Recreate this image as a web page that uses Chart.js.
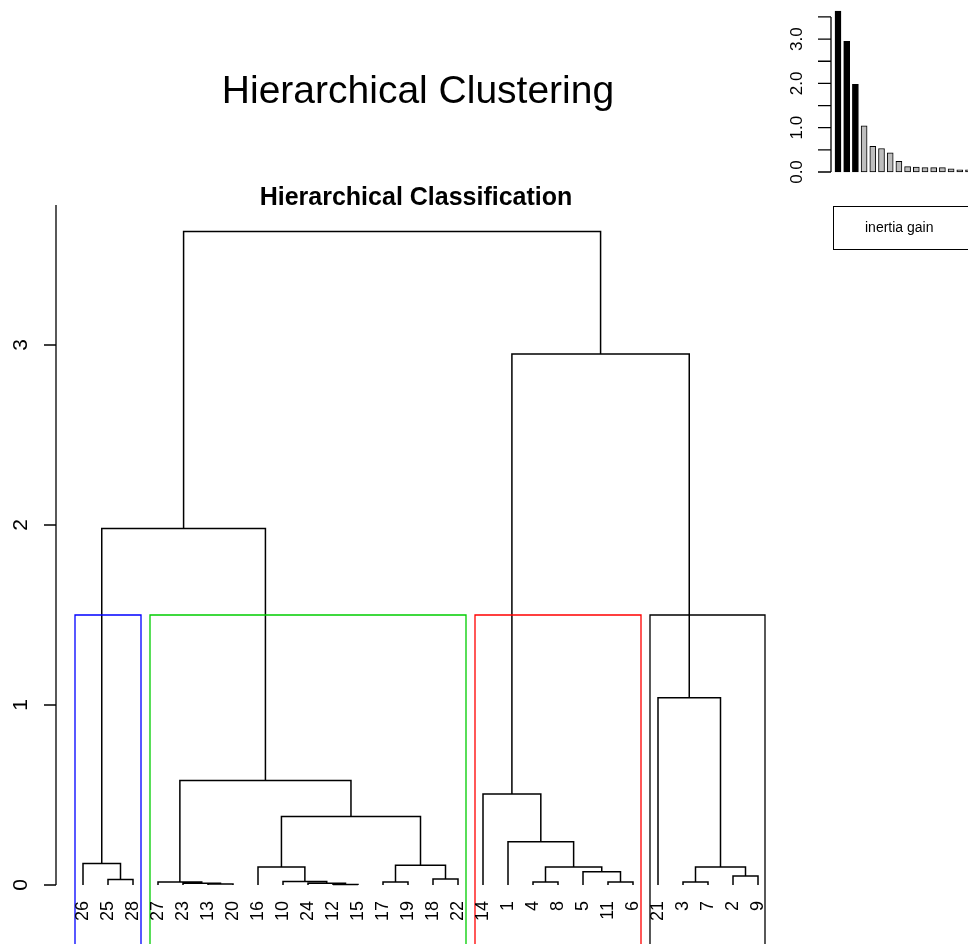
<!DOCTYPE html>
<html>
<head>
<meta charset="utf-8">
<script src="https://cdn.jsdelivr.net/npm/chart.js@4"></script>
<style>
  html, body { margin: 0; padding: 0; background: #fff; overflow: hidden; }
  #wrap { position: relative; width: 968px; height: 944px; overflow: hidden; }
  #main { position: absolute; left: 0; top: 0; }
  #inset { position: absolute; left: 760px; top: 0; }
</style>
</head>
<body>
<div id="wrap">
  <canvas id="main" width="968" height="944"></canvas>
  <canvas id="inset" width="400" height="260"></canvas>
</div>
<script>
// leaf order along the x axis
const leafOrder = [26, 25, 28, 27, 23, 13, 20, 16, 10, 24, 12, 15, 17, 19, 18, 22,
                   14, 1, 4, 8, 5, 11, 6, 21, 3, 7, 2, 9];

// merges in R style: negative = leaf label, positive = earlier merge (1-based), then height
const merges = [
  [-13, -20, 0.005],   // 1
  [-23, 1, 0.01],      // 2
  [-27, 2, 0.017],     // 3
  [-12, -15, 0.003],   // 4
  [-24, 4, 0.01],      // 5
  [-10, 5, 0.02],      // 6
  [-16, 6, 0.10],      // 7
  [-17, -19, 0.017],   // 8
  [-18, -22, 0.033],   // 9
  [8, 9, 0.11],        // 10
  [7, 10, 0.38],       // 11
  [3, 11, 0.58],       // 12
  [-25, -28, 0.03],    // 13
  [-26, 13, 0.12],     // 14
  [14, 12, 1.98],      // 15
  [-4, -8, 0.017],     // 16
  [-11, -6, 0.017],    // 17
  [-5, 17, 0.074],     // 18
  [16, 18, 0.10],      // 19
  [-1, 19, 0.24],      // 20
  [-14, 20, 0.505],    // 21
  [-3, -7, 0.017],     // 22
  [-2, -9, 0.05],      // 23
  [22, 23, 0.10],      // 24
  [-21, 24, 1.04],     // 25
  [21, 25, 2.95],      // 26
  [15, 26, 3.63]       // 27
];

// cluster boxes: first / last leaf position, colour
const clusterFrom = [1, 4, 17, 24];
const clusterTo = [3, 16, 23, 28];
const clusterColors = ['#0000ff', '#00cd00', '#ff0000', '#000000'];
const cutHeight = 1.5;

const yTicks = [0, 1, 2, 3];

// inertia gain bars (inset)
const gainValues = [3.63, 2.95, 1.98, 1.04, 0.58, 0.53, 0.43, 0.24, 0.12, 0.11,
                    0.10, 0.10, 0.10, 0.07, 0.05, 0.05, 0.04, 0.03, 0.03, 0.02];
const gainTicks = [0, 1, 2, 3];
const gainColors = gainValues.map((v, i) => i < 3 ? '#000000' : '#bebebe');

// ---- build dendrogram segments from the merge table ----
const leafPos = {};
leafOrder.forEach((lab, i) => { leafPos[lab] = i + 1; });
const nodeX = [], nodeH = [];
const segs = [];
const pos = (id) => id < 0 ? [leafPos[-id], 0] : [nodeX[id - 1], nodeH[id - 1]];
merges.forEach(([a, b, h]) => {
  const [xa, ha] = pos(a), [xb, hb] = pos(b);
  segs.push({x: xa, y: ha}, {x: xa, y: h}, {x: xb, y: h}, {x: xb, y: hb}, {x: xb, y: null});
  nodeX.push((xa + xb) / 2);
  nodeH.push(h);
});

const boxDatasets = clusterFrom.map((f, i) => {
  const l = f - 0.32, r = clusterTo[i] + (i === clusterFrom.length - 1 ? 0.28 : 0.32);
  return {
    data: [{x: l, y: -1}, {x: l, y: cutHeight}, {x: r, y: cutHeight}, {x: r, y: -1}],
    borderColor: clusterColors[i], borderWidth: 1.3, pointRadius: 0, fill: false, tension: 0
  };
});

const FONT = '"Liberation Sans", Arial, sans-serif';

const mainDecor = {
  id: 'mainDecor',
  afterDraw(chart) {
    const {ctx, scales: {x, y}} = chart;
    ctx.save();
    ctx.fillStyle = '#000';
    ctx.textAlign = 'center';
    ctx.textBaseline = 'middle';
    ctx.font = '39px ' + FONT;
    ctx.fillText('Hierarchical Clustering', 418, 92);
    ctx.font = 'bold 25px ' + FONT;
    ctx.fillText('Hierarchical Classification', 416, 198);

    // y axis
    ctx.strokeStyle = '#000';
    ctx.lineWidth = 1.3;
    ctx.beginPath();
    ctx.moveTo(56, 205);
    ctx.lineTo(56, y.getPixelForValue(0));
    yTicks.forEach(t => {
      const py = y.getPixelForValue(t);
      ctx.moveTo(56, py); ctx.lineTo(44, py);
    });
    ctx.stroke();
    ctx.font = '21px ' + FONT;
    yTicks.forEach(t => {
      const py = y.getPixelForValue(t);
      ctx.save();
      ctx.translate(21, py);
      ctx.rotate(-Math.PI / 2);
      ctx.fillText(String(t), 0, 0);
      ctx.restore();
    });

    // leaf labels
    ctx.font = '18px ' + FONT;
    ctx.textAlign = 'right';
    leafOrder.forEach((lab, i) => {
      const px = x.getPixelForValue(i + 1);
      ctx.save();
      ctx.translate(px, 901);
      ctx.rotate(-Math.PI / 2);
      ctx.fillText(String(lab), 0, 0);
      ctx.restore();
    });
    ctx.restore();
  }
};

new Chart(document.getElementById('main'), {
  type: 'line',
  data: {
    datasets: [
      ...boxDatasets,
      {data: segs, borderColor: '#000', borderWidth: 1.5, pointRadius: 0, spanGaps: false, tension: 0}
    ]
  },
  options: {
    responsive: false, animation: false,
    layout: {padding: 0},
    plugins: {legend: {display: false}, tooltip: {enabled: false}},
    scales: {
      x: {type: 'linear', display: false, min: 1 - 83 / 25, max: 1 + (968 - 83) / 25},
      y: {type: 'linear', display: false, min: -(944 - 885) / 180, max: 885 / 180}
    }
  },
  plugins: [mainDecor]
});

// ---- inset ----
const insetDecor = {
  id: 'insetDecor',
  afterDraw(chart) {
    const {ctx, scales: {y}} = chart;
    ctx.save();
    ctx.strokeStyle = '#000';
    ctx.lineWidth = 1.3;
    ctx.beginPath();
    const ax = 71;
    ctx.moveTo(ax, y.getPixelForValue(0));
    ctx.lineTo(ax, y.getPixelForValue(3.5));
    for (let t = 0; t <= 3.5; t += 0.5) {
      const py = y.getPixelForValue(t);
      ctx.moveTo(ax, py); ctx.lineTo(ax - 13, py);
    }
    ctx.stroke();
    ctx.fillStyle = '#000';
    ctx.font = '17px ' + FONT;
    ctx.textAlign = 'center';
    ctx.textBaseline = 'middle';
    gainTicks.forEach(t => {
      const py = y.getPixelForValue(t);
      ctx.save();
      ctx.translate(37, py);
      ctx.rotate(-Math.PI / 2);
      ctx.fillText(t.toFixed(1), 0, 0);
      ctx.restore();
    });
    // legend box
    ctx.lineWidth = 1;
    ctx.strokeRect(73.5, 206.5, 300, 43);
    ctx.font = '14px ' + FONT;
    ctx.textAlign = 'left';
    ctx.fillText('inertia gain', 105, 228);
    ctx.restore();
  }
};

new Chart(document.getElementById('inset'), {
  type: 'bar',
  data: {
    datasets: [{
      data: gainValues.map((v, i) => ({x: i, y: v})),
      backgroundColor: gainColors,
      borderColor: '#000', borderWidth: 1,
      barThickness: 6, borderSkipped: false
    }]
  },
  options: {
    responsive: false, animation: false,
    layout: {padding: 0},
    plugins: {legend: {display: false}, tooltip: {enabled: false}},
    scales: {
      x: {type: 'linear', display: false, offset: false, grid: {offset: false},
          min: -78 / 8.7, max: -78 / 8.7 + 400 / 8.7},
      y: {type: 'linear', display: false, min: -(260 - 172) / 44.3, max: 172 / 44.3}
    }
  },
  plugins: [insetDecor]
});
</script>
</body>
</html>
